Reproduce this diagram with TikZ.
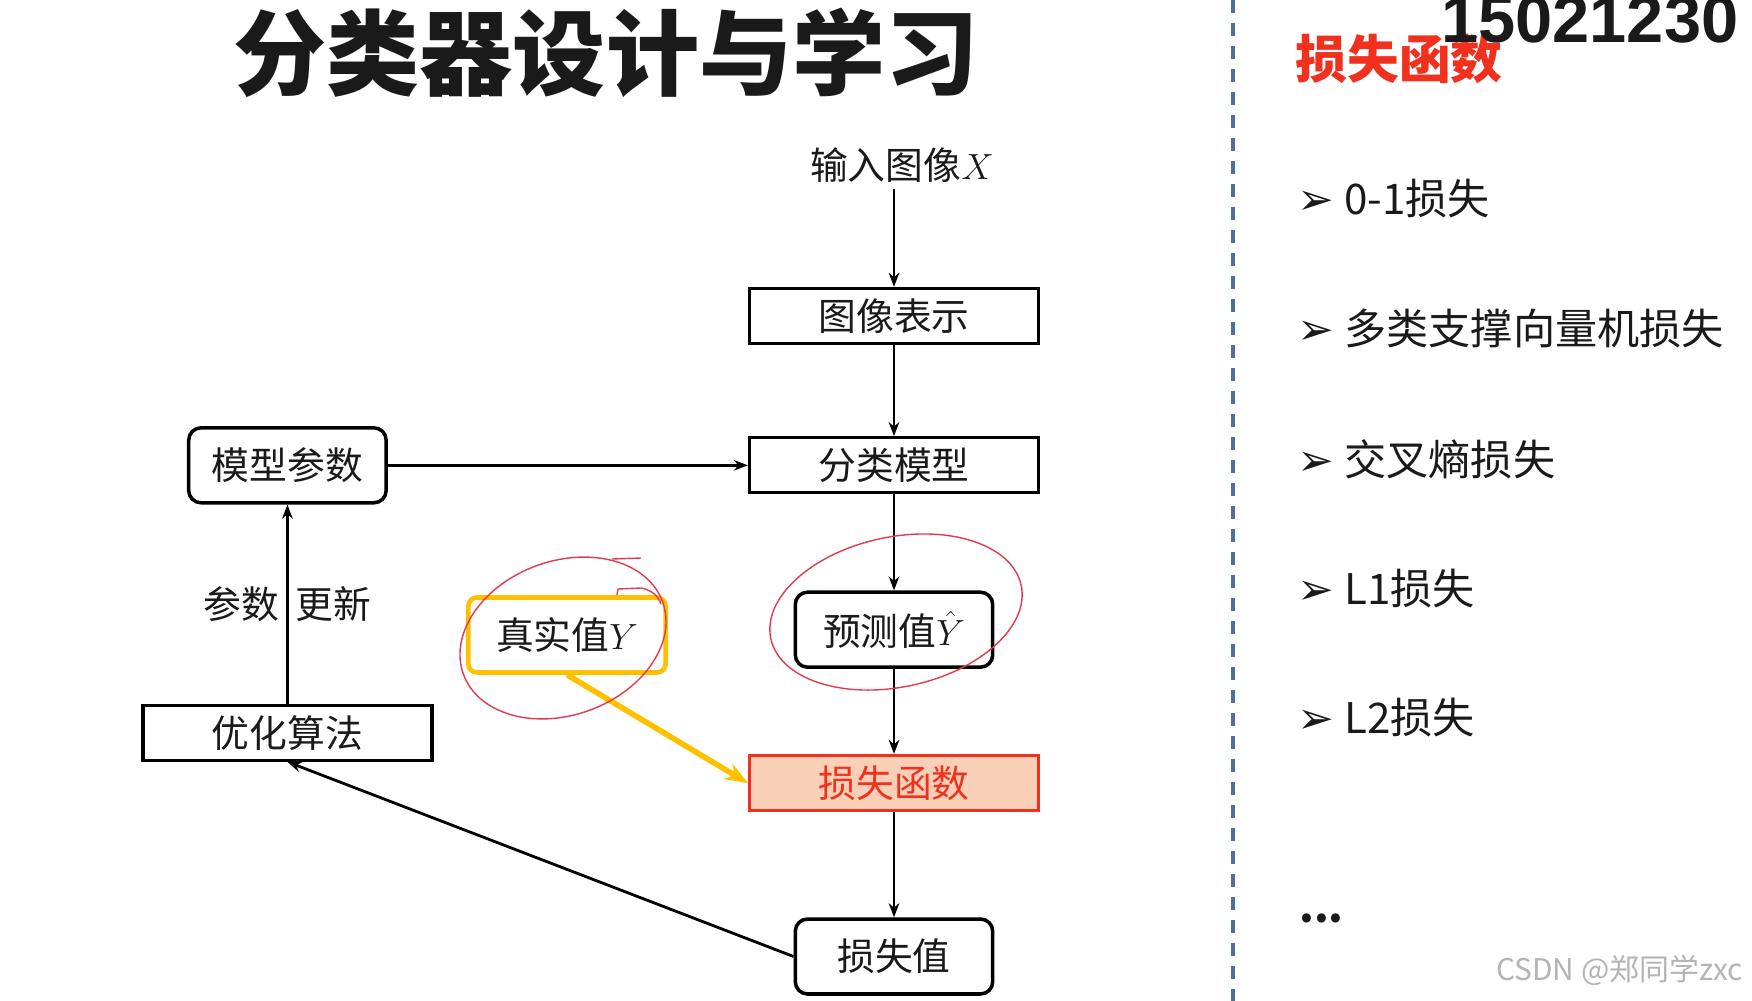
\documentclass[tikz,border=0pt]{standalone}
\usepackage{fontspec}
\setmainfont{Noto Sans CJK SC}
\newfontfamily\arrowfont{DejaVu Sans}
\newfontfamily\digitfont{Liberation Sans}
\usetikzlibrary{arrows.meta, positioning}
\definecolor{lossred}{HTML}{F2301E}
\definecolor{lossfill}{HTML}{F9CFB8}
\definecolor{truthgold}{HTML}{FFC000}
\definecolor{markred}{HTML}{E23A50}
\definecolor{dashblue}{HTML}{4F6F96}
\definecolor{textdark}{HTML}{1A1A1A}
\definecolor{markgray}{HTML}{B4B4B4}

\begin{document}
\begin{tikzpicture}[
  x=0.02cm, y=-0.02cm,
  >=Stealth,
  every node/.style={text=textdark},
  flowbox/.style={
    rectangle, draw=black, line width=1.9pt,
    minimum width=5.78cm, minimum height=1.1cm,
    inner sep=0pt,
    font=\fontsize{21.5}{24}\selectfont
  },
  valuebox/.style={
    rectangle, rounded corners=7pt, draw=black, line width=2pt,
    minimum width=3.95cm, minimum height=1.5cm,
    inner sep=0pt,
    font=\fontsize{21.5}{24}\selectfont
  },
  listitem/.style={
    anchor=west, inner sep=0pt,
    font=\fontsize{24}{28}\selectfont
  },
  connector/.style={
    -{Stealth[length=8pt, width=6pt]}, line width=1.6pt
  },
  handmark/.style={
    draw=markred, line width=0.8pt
  }
]

\path[use as bounding box, fill=white] (0,0) rectangle (1752,1001);

% ── Title ─────────────────────────────────────────────────────────────────
\node[font=\fontsize{53}{60}\selectfont\bfseries] (title) at (606,53)
  {分类器设计与学习};

% ── Main column ───────────────────────────────────────────────────────────
\node[flowbox] (repr) at (894,316) {图像表示};

\node[font=\fontsize{21.5}{24}\selectfont] (input) at (902,165)
  {输入图像$X$};

\node[flowbox, below=1.82cm of repr] (cls) {分类模型};

\node[valuebox, below=1.92cm of cls] (pred) {预测值$\hat{Y}$};

\node[flowbox,
      fill=lossfill, draw=lossred, text=lossred,
      below=1.7cm of pred]
  (lossfn) {损失函数};

\node[valuebox, below=2.1cm of lossfn] (lossval) {损失值};

% ── Left loop ─────────────────────────────────────────────────────────────
\node[valuebox, left=7.2cm of cls] (params) {模型参数};

\node[flowbox, below=3.98cm of params] (optim) {优化算法};

\node[valuebox, draw=truthgold, line width=2.6pt, rounded corners=5pt]
  (truth) at (567,635) {真实值$Y$};

% ── Arrows ────────────────────────────────────────────────────────────────
\draw[connector] (input.south -| repr.north) -- (repr.north);
\draw[connector] (repr) -- (cls);
\draw[connector] (cls) -- (pred);
\draw[connector] (pred) -- (lossfn);
\draw[connector] (lossfn) -- (lossval);
\draw[connector] (params) -- (cls);
\draw[connector] (optim) --
  node[font=\fontsize{21.5}{24}\selectfont] (update) {参数\hspace{0.32cm}更新}
  (params);
\draw[connector] (lossval.west) -- (optim.south);

\draw[-{Stealth[length=13pt, width=10pt]}, color=truthgold, line width=3.2pt]
  (truth.south) -- (lossfn.west);

% ── Hand-drawn circles ────────────────────────────────────────────────────
\draw[handmark, rotate around={20:(563,638)}]
  (563,638) ellipse (2.12cm and 1.54cm);
\draw[handmark] (612,559) -- (641,558);
\draw[handmark] (617,595) -- (618,589) -- (641,588)
  .. controls (652,590) and (658,596) .. (661,604);

\draw[handmark, rotate around={12:(896,612)}]
  (896,612) ellipse (2.56cm and 1.5cm);

% ── Divider ───────────────────────────────────────────────────────────────
\draw[dashblue, line width=2pt, dash pattern=on 0.26cm off 0.2cm]
  (1233,0) -- (1233,1001);

% ── Loss list ─────────────────────────────────────────────────────────────
\node[text=lossred, font=\fontsize{29.5}{32}\selectfont\bfseries]
  (losshead) at (1399,59) {损失函数};

\node[listitem] (item1) at (1297,199)
  {\makebox[0.94cm][l]{\arrowfont\fontsize{25}{25}\selectfont ➢}0-1损失};
\node[listitem] (item2) at (1297,329)
  {\makebox[0.94cm][l]{\arrowfont\fontsize{25}{25}\selectfont ➢}多类支撑向量机损失};
\node[listitem] (item3) at (1297,459)
  {\makebox[0.94cm][l]{\arrowfont\fontsize{25}{25}\selectfont ➢}交叉熵损失};
\node[listitem] (item4) at (1297,589)
  {\makebox[0.94cm][l]{\arrowfont\fontsize{25}{25}\selectfont ➢}L1损失};
\node[listitem] (item5) at (1297,718)
  {\makebox[0.94cm][l]{\arrowfont\fontsize{25}{25}\selectfont ➢}L2损失};
\node[listitem, font=\fontsize{24}{28}\selectfont\bfseries] (more) at (1299,918)
  {...};

% ── Stamps ────────────────────────────────────────────────────────────────
\node[anchor=west, inner sep=0pt,
      font=\digitfont\fontsize{38}{40}\selectfont\bfseries]
  (stamp) at (1441,20) {15021230};

\node[anchor=east, text=markgray, font=\fontsize{17}{20}\selectfont]
  (csdn) at (1749,970) {CSDN @郑同学zxc};

\end{tikzpicture}
\end{document}
